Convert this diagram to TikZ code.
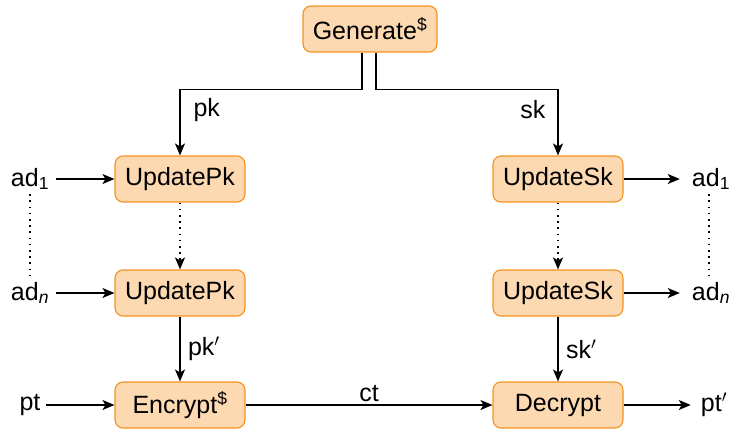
\documentclass[tikz,border=0pt]{standalone}
\usepackage{fontspec}
\setmainfont{Liberation Sans}
\usetikzlibrary{arrows.meta}
\definecolor{boxfill}{HTML}{FDD9B2}
\definecolor{boxedge}{HTML}{F5921E}
\begin{document}
\begin{tikzpicture}[x=1pt,y=-1pt,
  txt/.style={font=\fontsize{25}{30}\selectfont},
  algo/.style={txt, draw=boxedge, fill=boxfill, rounded corners=8pt,
    line width=1.1pt, minimum width=130pt, minimum height=46pt, inner sep=4pt},
  lbl/.style={txt, inner sep=5pt},
  flow/.style={line width=1.5pt, -{Stealth[length=12pt,width=10pt,inset=3pt]}},
  dots/.style={line width=1.8pt, dash pattern=on 1.6pt off 4.6pt}]
\useasboundingbox (0,0) rectangle (730,429);

% algorithm boxes
\node[algo, minimum width=134pt] (gen) at (370,29) {Generate\textsuperscript{\$}};
\node[algo] (upk1) at (180,179) {UpdatePk};
\node[algo] (usk1) at (558,179) {UpdateSk};
\node[algo] (upk2) at (180,293) {UpdatePk};
\node[algo] (usk2) at (558,293) {UpdateSk};
\node[algo] (enc) at (180,405) {Encrypt\textsuperscript{\$}};
\node[algo] (dec) at (558,405) {Decrypt};

% inputs and outputs
\node[lbl] (adl1) at (30,179) {ad\textsubscript{1}};
\node[lbl] (adln) at (30,293) {ad\textsubscript{\textit{n}}};
\node[lbl] (adr1) at (711,179) {ad\textsubscript{1}};
\node[lbl] (adrn) at (711,293) {ad\textsubscript{\textit{n}}};
\node[lbl] (pt) at (30,405) {pt};
\node[lbl] (ptp) at (714,405) {pt$'$};

% key generation
\draw[flow] ([xshift=-8pt]gen.south) -- ++(0,37) -| (upk1.north);
\draw[flow] ([xshift=6pt]gen.south) -- ++(0,37) -| (usk1.north);
\node[txt, anchor=west] (pklbl) at (190,110) {pk};
\node[txt, anchor=east] (sklbl) at (549,110) {sk};

% key updates
\draw[flow, shorten <=2pt] (adl1.east) -- (upk1.west);
\draw[flow, shorten <=2pt] (adln.east) -- (upk2.west);
\draw[flow, shorten >=7pt] (usk1.east) -- (adr1.west);
\draw[flow, shorten >=7pt] (usk2.east) -- (adrn.west);
\draw[dots] ([yshift=1pt]adl1.south) -- ([yshift=-2pt]adln.north);
\draw[dots] ([xshift=-2pt,yshift=1pt]adr1.south) -- ([xshift=-2pt,yshift=-2pt]adrn.north);
\draw[dots, -{Stealth[length=12pt,width=10pt,inset=3pt]}] (upk1.south) -- (upk2.north);
\draw[dots, -{Stealth[length=12pt,width=10pt,inset=3pt]}] (usk1.south) -- (usk2.north);

% encryption and decryption
\draw[flow] (upk2.south) -- node[txt, right=4pt] {pk$'$} (enc.north);
\draw[flow] (usk2.south) -- node[txt, right=4pt] {sk$'$} (dec.north);
\draw[flow] (pt.east) -- (enc.west);
\draw[flow] (enc.east) -- node[txt, above=-1pt] {ct} (dec.west);
\draw[flow, shorten >=5pt] (dec.east) -- (ptp.west);
\end{tikzpicture}
\end{document}
